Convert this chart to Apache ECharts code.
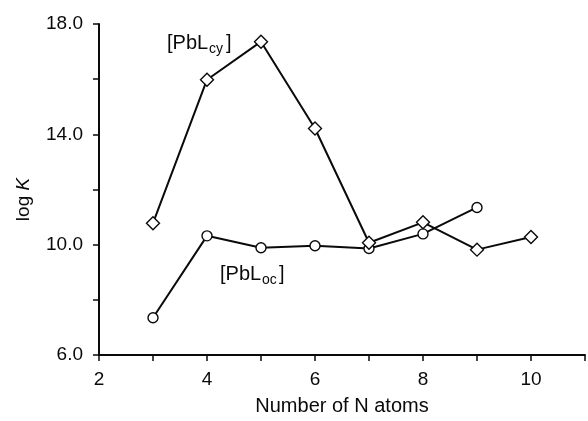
<!DOCTYPE html>
<html>
<head>
<meta charset="utf-8">
<script src="https://cdn.jsdelivr.net/npm/echarts@6/dist/echarts.min.js"></script>
<style>html,body{margin:0;padding:0;background:#fff}#c{width:588px;height:421px}</style>
</head>
<body>
<div id="c"></div>
<script>
var cyX = [3, 4, 5, 6, 7, 8, 9, 10];
var cyY = [10.78, 15.98, 17.36, 14.21, 10.07, 10.81, 9.82, 10.28];
var ocX = [3, 4, 5, 6, 7, 8, 9];
var ocY = [7.35, 10.32, 9.89, 9.96, 9.86, 10.39, 11.35];
var xLabels = [2, 4, 6, 8, 10];
var yLabels = [6, 10, 14, 18];

function pairs(xs, ys) { return xs.map(function (x, i) { return [x, ys[i]]; }); }

var chart = echarts.init(document.getElementById('c'), null, {renderer: 'canvas'});
var FONT = 'Liberation Sans';
var INK = '#0a0a0a';
chart.setOption({
  backgroundColor: '#fff',
  animation: false,
  grid: {left: 99, top: 24, width: 493, height: 339},
  xAxis: {
    type: 'value', min: 2, max: 11, interval: 1,
    name: 'Number of N atoms', nameLocation: 'middle', nameGap: 41,
    nameTextStyle: {fontFamily: FONT, fontSize: 20, color: INK},
    axisLine: {lineStyle: {color: INK, width: 2}},
    axisTick: {inside: false, length: 6, lineStyle: {color: INK, width: 1.5}},
    axisLabel: {margin: 15, fontFamily: FONT, fontSize: 19, color: INK,
      formatter: function (v) { return xLabels.indexOf(v) >= 0 ? String(v) : ''; }},
    splitLine: {show: false}
  },
  yAxis: {
    type: 'value', min: 6, max: 18, interval: 2,
    name: '{a|log }{b|K}', nameLocation: 'middle', nameGap: 66,
    nameTextStyle: {fontFamily: FONT, fontSize: 19, color: INK, padding: [0, 0, 0, -20],
      rich: {a: {fontFamily: FONT, fontSize: 19, color: INK}, b: {fontFamily: FONT, fontSize: 19, fontStyle: 'italic', color: INK}}},
    axisLine: {show: true, lineStyle: {color: INK, width: 2}},
    axisTick: {show: true, inside: false, length: 6, lineStyle: {color: INK, width: 1.5}},
    axisLabel: {margin: 16, fontFamily: FONT, fontSize: 19, color: INK,
      formatter: function (v) { return yLabels.indexOf(v) >= 0 ? v.toFixed(1) : ''; }},
    splitLine: {show: false}
  },
  series: [
    {
      type: 'line', data: pairs(cyX, cyY), symbol: 'diamond', symbolSize: 13,
      lineStyle: {color: INK, width: 2},
      itemStyle: {color: '#fff', borderColor: INK, borderWidth: 1.4}, z: 3
    },
    {
      type: 'line', data: pairs(ocX, ocY), symbol: 'circle', symbolSize: 10,
      lineStyle: {color: INK, width: 2},
      itemStyle: {color: '#fff', borderColor: INK, borderWidth: 1.4}, z: 2
    }
  ],
  graphic: [
    {type: 'text', left: 167, top: 33, style: {text: '[PbL', fontFamily: FONT, fontSize: 20, fill: INK}},
    {type: 'text', left: 209, top: 42, style: {text: 'cy', fontFamily: FONT, fontSize: 14, fill: INK}},
    {type: 'text', left: 226, top: 33, style: {text: ']', fontFamily: FONT, fontSize: 20, fill: INK}},
    {type: 'text', left: 220, top: 264, style: {text: '[PbL', fontFamily: FONT, fontSize: 20, fill: INK}},
    {type: 'text', left: 262, top: 273, style: {text: 'oc', fontFamily: FONT, fontSize: 14, fill: INK}},
    {type: 'text', left: 279, top: 264, style: {text: ']', fontFamily: FONT, fontSize: 20, fill: INK}}
  ]
});
</script>
</body>
</html>
